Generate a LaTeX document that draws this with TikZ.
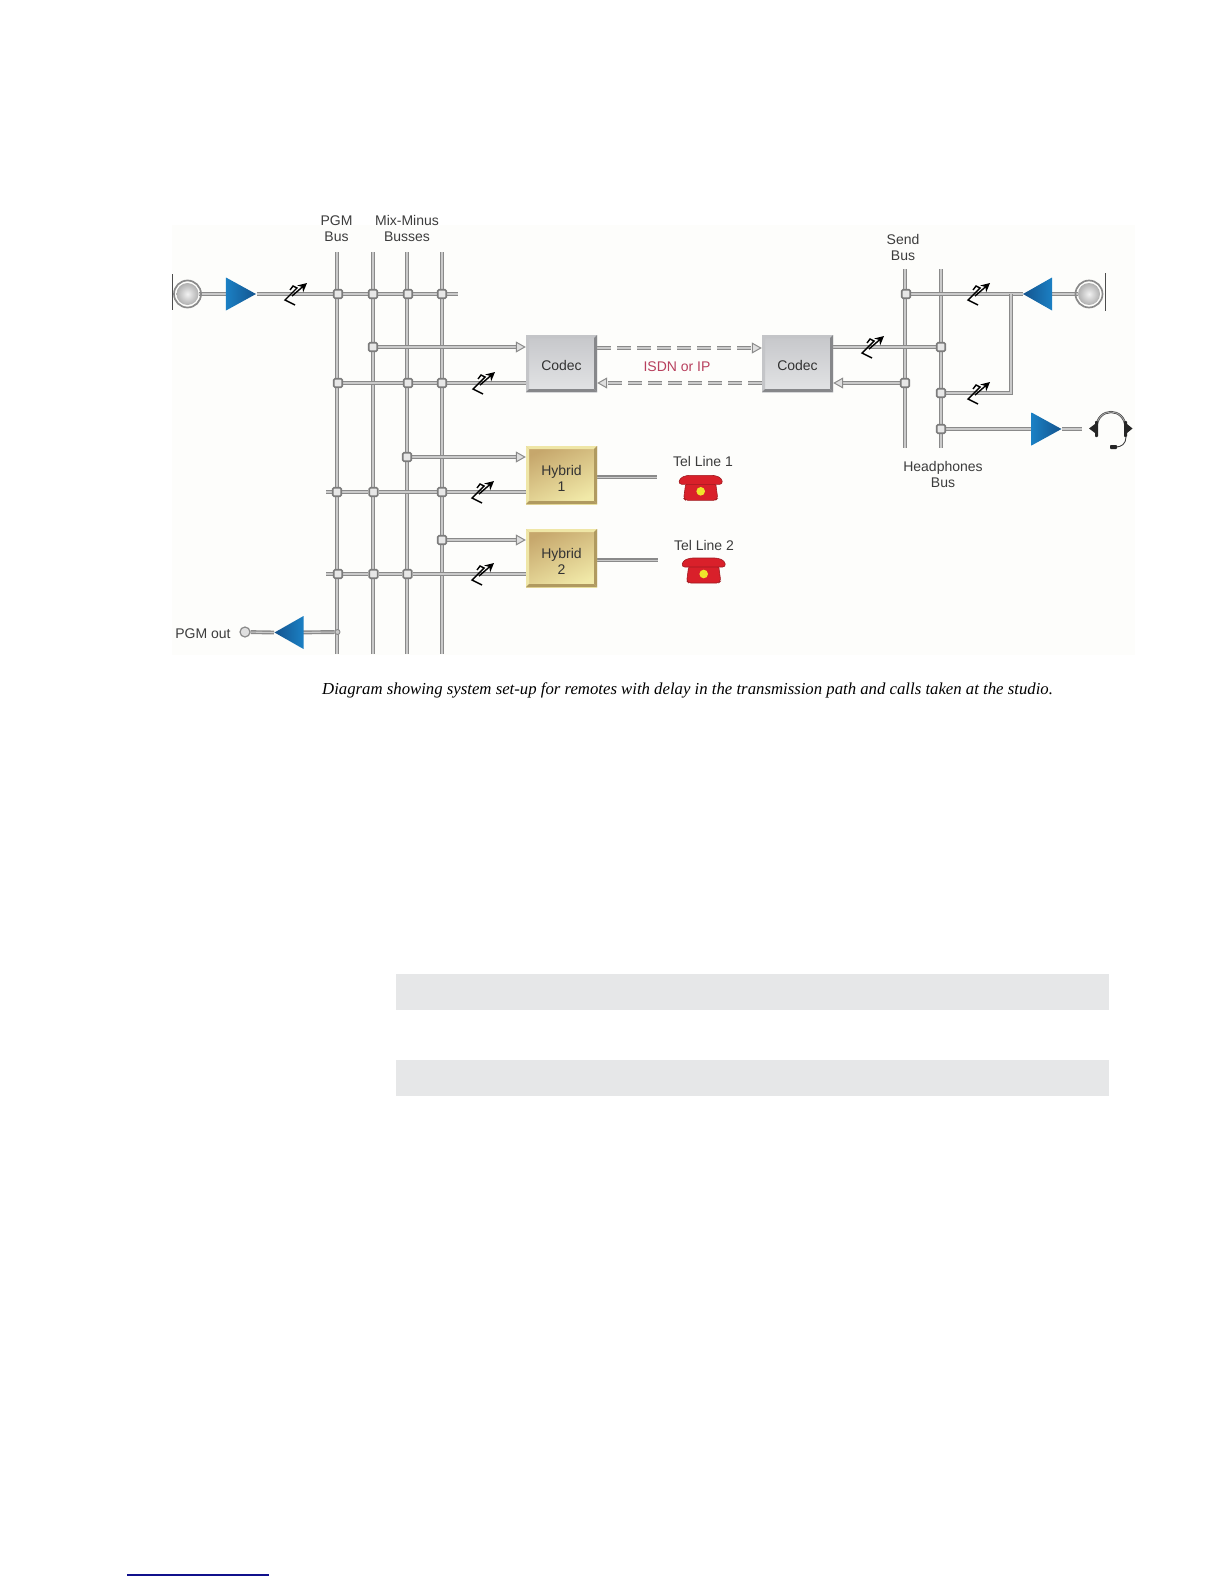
\documentclass[tikz,border=0pt]{standalone}
\usepackage{fontspec}
\setmainfont{Liberation Sans}
\newfontfamily\capfont{Liberation Serif}
\usetikzlibrary{arrows.meta,shapes.geometric,calc}
\pgfdeclarelayer{panel}\pgfdeclarelayer{pipes}
\pgfsetlayers{panel,pipes,main}
\definecolor{pipeD}{HTML}{8A8A8A}
\definecolor{pipeL}{HTML}{CACACA}
\definecolor{labelc}{HTML}{3C3C3C}
\definecolor{phonered}{HTML}{D9202A}
\definecolor{phonedark}{HTML}{A01A20}
\definecolor{phoneyellow}{HTML}{EFE52B}
\definecolor{codecLt}{HTML}{C4C5C8}\definecolor{codecDk}{HTML}{86878A}
\definecolor{codecA}{HTML}{C6C7CA}\definecolor{codecB}{HTML}{E2E3E5}
\definecolor{hybLt}{HTML}{EFE6A6}\definecolor{hybDk}{HTML}{B09A60}
\definecolor{hybA}{HTML}{C6A76C}\definecolor{hybB}{HTML}{F1E9A8}
\definecolor{ballA}{HTML}{F2F2F2}\definecolor{ballB}{HTML}{B0B0B0}
\definecolor{ampBright}{HTML}{1B80C4}\definecolor{ampDark}{HTML}{14548E}
\definecolor{panelc}{HTML}{FDFDFB}
\definecolor{greybar}{HTML}{E6E7E8}
\definecolor{isdnc}{HTML}{B8405E}
\definecolor{footblue}{HTML}{10108C}
\tikzset{
  pipe/.style={preaction={draw=pipeD,line width=3.9pt},draw=pipeL,line width=1.1pt},
  arr/.style={preaction={draw=pipeD,line width=3.9pt,shorten >=9pt},draw=pipeL,line width=1.1pt,shorten >=9pt,
     postaction={draw=pipeL,line width=1.1pt,shorten >=0pt,
     -{Triangle[length=10pt,width=11pt,fill=pipeL!60!white,color=pipeD,line width=1pt]}}},
  dasharr/.style={preaction={draw=pipeD,line width=4.4pt,shorten >=9pt,dash pattern=on 14pt off 6pt},
     draw=pipeL,line width=1.1pt,shorten >=9pt,dash pattern=on 14pt off 6pt,
     postaction={draw=pipeL,line width=1.1pt,shorten >=0pt,dash pattern=on 14pt off 6pt,
     -{Triangle[length=10pt,width=11pt,fill=pipeL!60!white,color=pipeD,line width=1pt]}}},
  wire/.style={preaction={draw=pipeD,line width=3.4pt},draw=pipeL,line width=1pt},
  jct/.style={rectangle,rounded corners=1.2pt,draw=pipeD!90!black,line width=1.6pt,fill=pipeL!45!white,minimum size=8.5pt,inner sep=0pt},
  smalljct/.style={circle,draw=pipeD,line width=.9pt,fill=pipeL,minimum size=5pt,inner sep=0pt},
  lab/.style={font=\fontsize{14}{16}\selectfont,text=labelc,align=center,inner sep=0pt},
  boxlab/.style={lab,text=black!80},
  ampR/.style={isosceles triangle,isosceles triangle stretches,minimum width=33pt,minimum height=30pt,inner sep=0pt,
     shape border rotate=0,left color=ampBright,right color=ampDark},
  ampL/.style={isosceles triangle,isosceles triangle stretches,minimum width=33pt,minimum height=29pt,inner sep=0pt,
     shape border rotate=180,left color=ampDark,right color=ampBright},
  bevelbox/.style n args={3}{rectangle,minimum width=71pt,minimum height=#1,inner sep=0pt,
     path picture={
       \fill[#2] (path picture bounding box.north west) -- (path picture bounding box.north east)
          -- ([shift={(-3pt,-3pt)}]path picture bounding box.north east) -- ([shift={(3pt,-3pt)}]path picture bounding box.north west) -- cycle;
       \fill[#2] (path picture bounding box.north west) -- (path picture bounding box.south west)
          -- ([shift={(3pt,3pt)}]path picture bounding box.south west) -- ([shift={(3pt,-3pt)}]path picture bounding box.north west) -- cycle;
       \fill[#3] (path picture bounding box.south east) -- (path picture bounding box.north east)
          -- ([shift={(-3pt,-3pt)}]path picture bounding box.north east) -- ([shift={(-3pt,3pt)}]path picture bounding box.south east) -- cycle;
       \fill[#3] (path picture bounding box.south east) -- (path picture bounding box.south west)
          -- ([shift={(3pt,3pt)}]path picture bounding box.south west) -- ([shift={(-3pt,3pt)}]path picture bounding box.south east) -- cycle;
     }},
  codecbox/.style={bevelbox={57pt}{codecLt}{codecDk},top color=codecA,bottom color=codecB},
  hybridbox/.style={bevelbox={58pt}{hybLt}{hybDk},top color=hybA,bottom color=hybB,shading angle=25},
  micball/.style={circle,minimum size=22pt,inner sep=0pt,inner color=ballA,outer color=ballB},
  micring/.style={draw=pipeD,line width=1.7pt},
  potbar/.style={draw=black,line width=1.4pt,line join=miter},
  micbar/.style={draw=black!70,line width=.9pt},
  pot/.pic={
    \draw[potbar] (-5,-4) -- (-2,-8) -- (2,-6) -- (-10,6) -- (0,11);
    \draw[potbar,-{Stealth[length=9pt,width=9pt]}] (-3,2) -- (12,-11);
  },
  phone/.pic={
    \fill[phonered,draw=phonedark,line width=.6pt,rounded corners=2pt] (-15,-8) -- (15,-8) -- (17,7) -- (15,9) -- (-15,9) -- (-17,7) -- cycle;
    \fill[phonered,draw=phonedark,line width=.6pt,rounded corners=3pt] (-22,-7) -- (-21,-13) -- (-14,-16) -- (14,-16) -- (21,-13) -- (22,-7) -- (14,-7) -- (-14,-7) -- cycle;
    \fill[phoneyellow] (0,0) circle (4.3);
  },
  headset/.pic={
    \draw[black!70,line width=2.2pt] (-14.5,0) .. controls (-14.5,-21.3) and (14.5,-21.3) .. (14.5,0);
    \draw[white!70!black,line width=.7pt] (-14.5,0) .. controls (-14.5,-21.3) and (14.5,-21.3) .. (14.5,0);
    \fill[black!85,rounded corners=.8pt] (-16,-7) rectangle (-13,9);
    \fill[black!85,rounded corners=.8pt] (13,-7) rectangle (16,9);
    \fill[black!85] (-16,-4) -- (-22,0.5) -- (-16,5) -- cycle;
    \fill[black!85] (16,-4) -- (21.5,0.5) -- (16,5) -- cycle;
    \draw[black!75,line width=.9pt] (15,9) .. controls (15,16) and (10,19) .. (5,19);
    \fill[black!85,rounded corners=.8pt] (-1,17) rectangle (6,21);
  },
}
\begin{document}
\begin{tikzpicture}[x=1pt,y=-1pt]
\useasboundingbox (0,0) rectangle (1224,1584);
\begin{pgfonlayer}{panel}
  \fill[panelc] (172,225) rectangle (1135,655);
  \fill[greybar] (396,974) rectangle (1109,1010);
  \fill[greybar] (396,1060) rectangle (1109,1096);
\end{pgfonlayer}
% bus ends
\coordinate (pgmT) at (337,252); \coordinate (pgmB) at (337,654);
\coordinate (mmaT) at (373,252); \coordinate (mmaB) at (373,654);
\coordinate (mmbT) at (407,252); \coordinate (mmbB) at (407,654);
\coordinate (mmcT) at (442,252); \coordinate (mmcB) at (442,654);
\coordinate (sndT) at (905,269); \coordinate (sndB) at (905,448);
\coordinate (hpT) at (941,269);  \coordinate (hpB) at (941,448);
% free ends
\coordinate (row1E) at (458,294);
\coordinate (row5W) at (326,492);
\coordinate (row7W) at (326,574);
\coordinate (line1E) at (657,477);
\coordinate (line2E) at (658,560);
\coordinate (hsE) at (1082,429);
\coordinate (bend) at (1011,393);
\coordinate (barLT) at (172,274); \coordinate (barLB) at (172,310);
\coordinate (barRT) at (1105,273); \coordinate (barRB) at (1105,311);
% junctions
\node[jct] (a1) at (338,294) {}; \node[jct] (a2) at (373,294) {}; \node[jct] (a3) at (408,294) {}; \node[jct] (a4) at (442,294) {};
\node[jct] (b1) at (373,347) {};
\node[jct] (c1) at (338,383) {}; \node[jct] (c2) at (408,383) {}; \node[jct] (c3) at (442,383) {};
\node[jct] (d1) at (407,457) {};
\node[jct] (e1) at (337,492) {}; \node[jct] (e2) at (373.5,492) {}; \node[jct] (e3) at (442,492) {};
\node[jct] (f1) at (442,540) {};
\node[jct] (g1) at (338,574) {}; \node[jct] (g2) at (373.5,574) {}; \node[jct] (g3) at (407.5,574) {};
\node[smalljct] (h1) at (337.5,632) {};
\node[jct] (r1) at (906,294) {};
\node[jct] (r2) at (941,347) {};
\node[jct] (r3) at (905,383) {};
\node[jct] (r4) at (941,393) {};
\node[jct] (r5) at (941,429) {};
% boxes
\node[codecbox,label={[name=cod1t,boxlab,yshift=-2pt]center:Codec}] (cod1) at (561.5,363.5) {};
\node[codecbox,label={[name=cod2t,boxlab,yshift=-2pt]center:Codec}] (cod2) at (797.5,363.5) {};
\node[hybridbox,label={[name=hyb1t,boxlab,yshift=-3pt]center:{Hybrid\\1}}] (hyb1) at (561.5,475) {};
\node[hybridbox,label={[name=hyb2t,boxlab,yshift=-3pt]center:{Hybrid\\2}}] (hyb2) at (561.5,558) {};
% amplifiers
\node[ampR,anchor=apex] (ampA) at (256.5,294) {};
\node[ampL,anchor=apex] (ampB) at (274,632.5) {};
\node[ampL,anchor=apex] (ampC) at (1022.5,294) {};
\node[ampR,anchor=apex] (ampD) at (1062,429) {};
% microphones
\node[micball] (micA) at (187.5,294) {};
\draw[micring] (micA.center) circle (13.5);
\node[micball] (micB) at (1089,294) {};
\draw[micring] (micB.center) circle (13.5);
\node[circle,minimum size=10pt,inner sep=0pt,draw=pipeD,line width=1.2pt,fill=pipeL!60!white] (outp) at (245,632) {};
% connectors
\begin{pgfonlayer}{pipes}
  \foreach \t/\b in {pgmT/pgmB,mmaT/mmaB,mmbT/mmbB,mmcT/mmcB,sndT/sndB,hpT/hpB}
    \draw[pipe] (\t) -- (\b);
  \draw[pipe] (micA) -- (ampA.center);
  \draw[pipe] (ampA.apex) -- (a1) -- (a2) -- (a3) -- (a4) -- (row1E);
  \draw[arr] (b1) -- (b1 -| cod1.west);
  \draw[pipe] (c1) -- (c2) -- (c3) -- (c3 -| cod1.west);
  \draw[arr] (d1) -- (d1 -| hyb1.west);
  \draw[pipe] (row5W) -- (e1) -- (e2) -- (e3) -- (e3 -| hyb1.west);
  \draw[arr] (f1) -- (f1 -| hyb2.west);
  \draw[pipe] (row7W) -- (g1) -- (g2) -- (g3) -- (g3 -| hyb2.west);
  \draw[pipe] (outp) -- (ampB.apex);
  \draw[pipe] (ampB.center) -- (h1);
  \draw[dasharr] ([yshift=15.5pt]cod1.east) -- ([yshift=15.5pt]cod2.west);
  \draw[dasharr] ([yshift=-19.5pt]cod2.west) -- ([yshift=-19.5pt]cod1.east);
  \draw[wire] (hyb1.east |- line1E) -- (line1E);
  \draw[wire] (hyb2.east |- line2E) -- (line2E);
  \draw[pipe] (r1) -- (ampC.apex);
  \draw[pipe] (ampC.center) -- (micB);
  \draw[pipe] (cod2.east |- r2) -- (r2);
  \draw[arr] (r3) -- (r3 -| cod2.east);
  \draw[pipe] (r4) -- (bend) -- (bend |- ampC.apex);
  \draw[pipe] (r5) -- (ampD.center);
  \draw[pipe] (ampD.apex) -- (hsE);
\end{pgfonlayer}
\draw[micbar] (barLT) -- (barLB);
\draw[micbar] (barRT) -- (barRB);
% pots
\path (295,294) pic {pot};
\path (483,383) pic {pot};
\path (482,492) pic {pot};
\path (482,574) pic {pot};
\path (978,294) pic {pot};
\path (872,347) pic {pot};
\path (978,393) pic {pot};
% phones, headset
\path (700.7,491.3) pic {phone};
\path (703.7,574) pic {phone};
\path (1111,428) pic {headset};
% labels
\node[lab] (tPGM) at (336.5,229) {PGM\\Bus};
\node[lab] (tMM) at (407,228) {Mix-Minus\\Busses};
\node[lab] (tSend) at (903,247) {Send\\Bus};
\node[lab] (tHP) at (943,474) {Headphones\\Bus};
\node[lab] (tOut) at (203,634) {PGM out};
\node[lab,text=isdnc] (tISDN) at (677,367) {ISDN or IP};
\node[lab] (tTel1) at (703,461) {Tel Line 1};
\node[lab] (tTel2) at (704,545) {Tel Line 2};
\node[font=\capfont\itshape\fontsize{16.75}{18}\selectfont,text=black,inner sep=0pt,anchor=base west] (cap) at (322,694) {Diagram showing system set-up for remotes with delay in the transmission path and calls taken at the studio.};
\coordinate (ruleA) at (127,1575); \coordinate (ruleB) at (269,1575);
\draw[footblue,line width=1.5pt] (ruleA) -- (ruleB);
\end{tikzpicture}
\end{document}
